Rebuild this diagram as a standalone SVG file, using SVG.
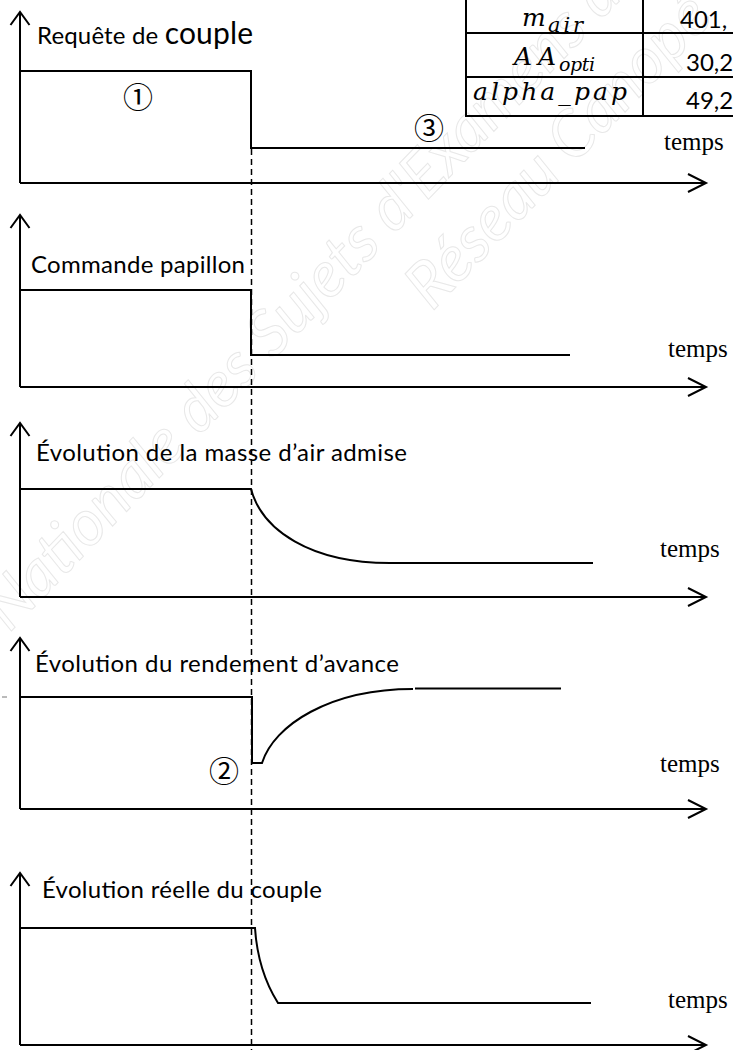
<svg xmlns="http://www.w3.org/2000/svg" width="733" height="1050" viewBox="0 0 733 1050">
<style>
.ln{fill:none;stroke:#000;stroke-width:2}
.ax{fill:none;stroke:#000;stroke-width:2}
.lbl{font-family:Lato,'Open Sans',sans-serif;font-size:24px;fill:#000}
.tm{font-family:'Liberation Serif',serif;font-size:25px;fill:#000}
.math{font-family:'DejaVu Serif',serif;font-style:italic;fill:#000}
.val{font-family:Lato,'Open Sans',sans-serif;font-size:24px;fill:#000}
.circ{font-family:'Noto Sans CJK JP','DejaVu Sans',sans-serif;font-size:30px;text-anchor:middle;fill:#000}
.dash{fill:none;stroke:#000;stroke-width:1.5;stroke-dasharray:6 4}
.wm{font-family:Lato,sans-serif;font-style:italic;font-size:64px;fill:none;stroke:#e8e8e8;stroke-width:1}
</style>
<defs>
<marker id="arrX" markerUnits="userSpaceOnUse" viewBox="-20 -11 22 22" markerWidth="22" markerHeight="22" refX="0" refY="0" orient="auto" overflow="visible">
<path d="M-18,-9 L0,0 L-18,9" fill="none" stroke="#000" stroke-width="2"/>
</marker>
<marker id="arrY" markerUnits="userSpaceOnUse" viewBox="-20 -11 22 22" markerWidth="22" markerHeight="22" refX="0" refY="0" orient="auto" overflow="visible">
<path d="M-13,-9.5 L0,0 L-13,9.5" fill="none" stroke="#000" stroke-width="2"/>
</marker>
</defs>
<rect width="733" height="1050" fill="#fff"/>

<g id="watermark">
<text class="wm" transform="translate(273,360) rotate(-46)" text-anchor="end" x="-16">Nationale des</text>
<text class="wm" transform="translate(273,360) rotate(-46)">Sujets d'Examens de</text>
<text class="wm" transform="translate(432,312) rotate(-46)">Réseau Canopé</text>
</g>

<g id="table">
<path class="ln" d="M466,0 V117 M643,0 V117 M466,33 H733 M466,77 H733 M466,116 H733"/>
<text class="math" x="522" y="26" font-size="25">m</text>
<text class="math" x="548" y="32" font-size="21" textLength="35">air</text>
<text class="math" x="514" y="65" font-size="25" textLength="42">AA</text>
<text class="math" x="559" y="71" font-size="19" textLength="36">opti</text>
<text class="math" x="473" y="100" font-size="25" textLength="154">alpha_pap</text>
<text class="val" x="680" y="28">401,</text>
<text class="val" x="686" y="71">30,2</text>
<text class="val" x="686" y="109">49,2</text>
</g>

<g id="graph1">
<path class="ax" d="M20,183 V12" marker-end="url(#arrY)"/>
<path class="ax" d="M20,183 H706" marker-end="url(#arrX)"/>
<text class="lbl" x="37" y="44" textLength="216"><tspan>Requête de </tspan><tspan font-size="30">couple</tspan></text>
<path class="ln" d="M20,71 H251 V148 H585"/>
<text class="circ" x="138" y="108">①</text>
<text class="circ" x="429" y="139">③</text>
<text class="tm" x="664" y="150">temps</text>
</g>

<g id="graph2">
<path class="ax" d="M20,387 V215" marker-end="url(#arrY)"/>
<path class="ax" d="M20,387 H706" marker-end="url(#arrX)"/>
<text class="lbl" x="31" y="273" textLength="214">Commande papillon</text>
<path class="ln" d="M20,290 H251 V355 H570"/>
<text class="tm" x="668" y="357">temps</text>
</g>

<g id="graph3">
<path class="ax" d="M20,597 V423" marker-end="url(#arrY)"/>
<path class="ax" d="M20,597 H706" marker-end="url(#arrX)"/>
<text class="lbl" x="36" y="461" textLength="371">Évolution de la masse d’air admise</text>
<path class="ln" d="M20,489 H251 C262,530 310,563 390,563 H593"/>
<text class="tm" x="660" y="557">temps</text>
</g>

<g id="graph4">
<path class="ax" d="M20,809 V638" marker-end="url(#arrY)"/>
<path class="ax" d="M20,809 H706" marker-end="url(#arrX)"/>
<text class="lbl" x="35" y="672" textLength="364">Évolution du rendement d’avance</text>
<path class="ln" d="M20,697 H252 V763 H262 C274,725 330,689 413,689"/>
<path class="ln" d="M415,688.5 H561"/>
<path d="M2,697 H7" stroke="#777" stroke-width="1"/>
<text class="circ" x="224" y="782">②</text>
<text class="tm" x="660" y="772">temps</text>
</g>

<g id="graph5">
<path class="ax" d="M20,1045 V873" marker-end="url(#arrY)"/>
<path class="ax" d="M20,1045 H706" marker-end="url(#arrX)"/>
<text class="lbl" x="42" y="898" textLength="280">Évolution réelle du couple</text>
<path class="ln" d="M20,928 H255 C257,958 266,984 278,1003 H591"/>
<text class="tm" x="668" y="1008">temps</text>
</g>

<g id="connectors">
<path class="dash" d="M251.5,149 V1050"/>
</g>
</svg>
